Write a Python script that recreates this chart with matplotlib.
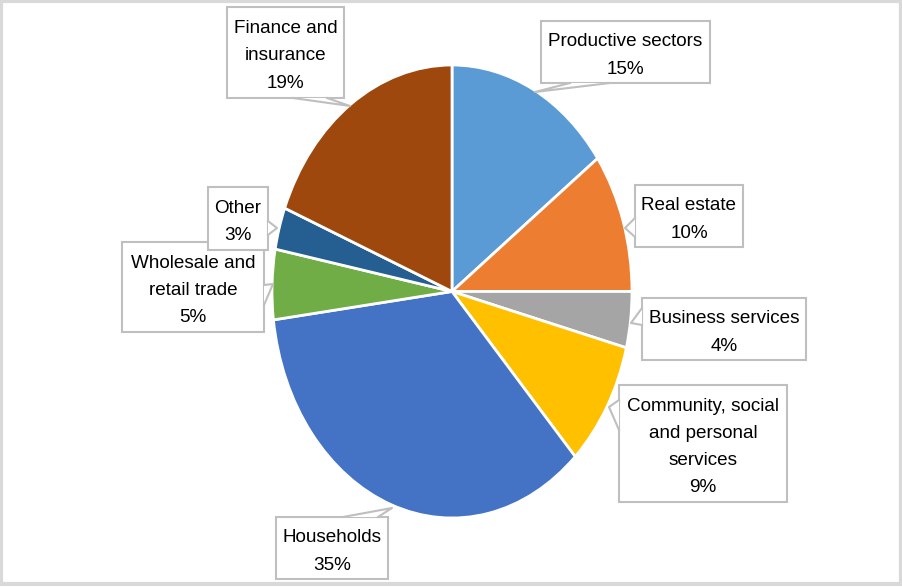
import matplotlib
matplotlib.use('Agg')
from matplotlib import pyplot as plt
from matplotlib.patches import Rectangle, Polygon

# data, clockwise from 12 o'clock
sectors = ['Productive sectors', 'Real estate', 'Business services',
           'Community, social\nand personal\nservices', 'Households',
           'Wholesale and\nretail trade', 'Other', 'Finance and\ninsurance']
shares = [15, 10, 4, 9, 35, 5, 3, 19]
colors = ['#5B9BD5', '#ED7D31', '#A5A5A5', '#FFC000', '#4472C4',
          '#70AD47', '#255E91', '#9E480E']

# label boxes in pixels (x0, y0, x1, y1) and callout pointers (base1, base2, tip)
boxes = [(541, 21, 710, 83), (635, 185, 743, 247), (642, 298, 806, 360),
         (619, 385, 787, 502), (276, 517, 388, 579), (122, 242, 264, 332),
         (208, 187, 268, 250), (227, 7, 344, 98)]
pointers = [((570, 83), (610, 83), (535, 92)),
            ((635, 218), (635, 237), (625, 228)),
            ((642, 308), (642, 325), (631, 323)),
            ((619, 400), (619, 430), (609, 407)),
            ((343, 517), (378, 517), (392, 508)),
            ((264, 285), (264, 305), (273, 284)),
            ((268, 221), (268, 235), (277, 228)),
            ((293, 98), (327, 98), (350, 106))]

W, H = 903, 587
fig = plt.figure(figsize=(W / 100, H / 100), dpi=100)
fig.patch.set_facecolor('white')

# pie axes stretched to the elliptical pie of the original
pie_ax = fig.add_axes([272 / W, 1 - 518 / H, 360 / W, 453 / H])
pie_ax.pie(shares, colors=colors, startangle=90, counterclock=False,
           wedgeprops=dict(edgecolor='white', linewidth=2), frame=True)
pie_ax.set_aspect('auto')
pie_ax.set_xlim(-1, 1)
pie_ax.set_ylim(-1, 1)
pie_ax.axis('off')

# overlay in pixel coordinates for the labels
ov = fig.add_axes([0, 0, 1, 1])
ov.set_xlim(0, W)
ov.set_ylim(H, 0)
ov.axis('off')
ov.patch.set_alpha(0)

edge = '#BFBFBF'
for name, val, (x0, y0, x1, y1), (b1, b2, tip) in zip(sectors, shares, boxes, pointers):
    ov.add_patch(Rectangle((x0, y0), x1 - x0, y1 - y0, facecolor='white',
                           edgecolor=edge, linewidth=1.5))
    ov.add_patch(Polygon([b1, tip, b2], closed=True, facecolor='white',
                         edgecolor='none'))
    ov.plot([b1[0], tip[0], b2[0]], [b1[1], tip[1], b2[1]], color=edge, lw=1.5)
    ov.text((x0 + x1) / 2, (y0 + y1) / 2 + 3.5, f'{name}\n{val}%', ha='center',
            va='center', fontsize=13.6, family='Liberation Sans',
            linespacing=1.78, color='black')

# light frame around the picture
ov.add_patch(Rectangle((1, 1), W - 3, H - 4, facecolor='none',
                       edgecolor='#D9D9D9', linewidth=3))

plt.savefig('out.png', dpi=100)
